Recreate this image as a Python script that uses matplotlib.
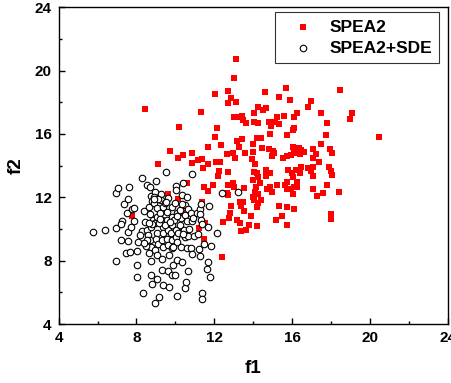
import numpy as np
import matplotlib
matplotlib.use("Agg")
import matplotlib.pyplot as plt
from matplotlib.ticker import MultipleLocator

# SPEA2 (red squares)
spea2_f1 = [13.09, 13.0, 12.03, 12.72, 12.85, 12.68, 13.1, 8.43, 11.33, 10.18,
            12.13, 12.05, 9.72, 10.39, 10.11, 9.09, 10.83, 10.84, 11.65, 11.39,
            11.14, 11.41, 11.68, 12.36, 12.08, 12.29, 12.25, 12.17, 12.68, 12.63,
            12.97, 13.06, 13.26, 13.14, 13.43, 13.57, 13.02, 13.23, 13.42, 13.49,
            13.62, 14.03, 14.27, 14.51, 14.68, 14.63, 14.03, 14.23, 14.17, 14.38,
            14.46, 13.97, 14.0, 13.95, 14.09, 14.03, 14.17, 14.27, 13.97, 14.65,
            14.86, 14.79, 14.9, 14.84, 15.12, 15.33, 15.23, 15.59, 15.3, 15.7,
            15.9, 15.75, 16.05, 16.09, 16.12, 16.27, 16.79, 16.98, 17.5, 17.8,
            17.73, 17.48, 17.95, 18.06, 18.45, 18.98, 19.09, 20.47, 14.82, 14.99,
            15.08, 14.97, 15.51, 15.72, 15.92, 16.05, 16.12, 16.39, 16.48, 16.6,
            16.36, 17.08, 17.22, 17.08, 17.39, 17.05, 16.99, 16.82, 17.05, 17.89,
            17.99, 18.05, 17.77, 17.6, 17.26, 17.08, 18.41, 17.99, 17.99, 15.8,
            15.99, 16.02, 16.19, 16.39, 16.48, 16.27, 16.08, 15.92, 16.05, 16.26,
            15.75, 15.72, 15.65, 15.24, 14.86, 14.72, 14.94, 14.65, 14.34, 14.13,
            14.08, 14.25, 13.97, 14.03, 14.42, 14.22, 14.17, 15.3, 15.75, 16.12,
            15.49, 15.15, 15.75, 14.17, 13.76, 13.62, 13.35, 13.32, 13.18, 13.91,
            13.55, 13.38, 13.31, 13.48, 13.51, 12.97, 13.02, 12.68, 12.63, 12.68,
            12.85, 12.8, 12.77, 12.44, 11.95, 11.68, 11.46, 11.36, 11.52, 11.23,
            11.49, 12.42, 10.58, 10.11, 10.32, 7.75, 9.64]
spea2_f2 = [20.76, 19.56, 18.53, 18.74, 18.25, 17.98, 18.04, 17.56, 17.41, 16.44,
            16.4, 15.83, 14.93, 14.67, 14.5, 14.08, 14.82, 14.15, 15.2, 14.44,
            14.36, 13.83, 14.11, 15.33, 14.25, 14.21, 13.66, 13.37, 13.6, 14.74,
            14.78, 14.48, 15.2, 15.58, 15.66, 14.78, 17.05, 17.07, 17.16, 16.88,
            16.67, 17.31, 17.68, 17.52, 17.62, 18.63, 16.78, 16.72, 15.77, 15.77,
            15.1, 15.37, 14.88, 14.4, 14.08, 13.62, 13.52, 13.31, 13.09, 13.73,
            13.52, 16.78, 16.53, 16.0, 16.74, 16.63, 17.05, 17.14, 18.34, 18.91,
            18.15, 15.94, 16.25, 16.4, 17.09, 17.31, 17.73, 18.08, 17.31, 16.72,
            15.92, 15.37, 15.05, 14.78, 18.78, 16.93, 17.35, 15.81, 15.05, 14.95,
            14.78, 14.61, 14.46, 14.61, 14.65, 15.2, 14.78, 14.74, 14.99, 14.88,
            15.1, 15.03, 14.74, 14.46, 14.25, 13.94, 13.68, 13.83, 13.37, 13.94,
            13.68, 13.41, 12.78, 12.29, 12.08, 12.51, 12.36, 10.93, 10.61, 13.73,
            13.56, 13.31, 13.73, 13.52, 13.94, 12.99, 12.67, 12.53, 12.21, 12.67,
            12.99, 12.53, 12.78, 12.78, 12.67, 12.51, 12.32, 13.35, 12.93, 12.63,
            12.36, 12.19, 12.04, 11.83, 11.83, 11.62, 11.37, 11.47, 11.37, 11.28,
            10.82, 10.57, 10.25, 10.19, 10.25, 9.94, 9.89, 10.36, 10.57, 10.82,
            11.16, 11.45, 11.73, 11.69, 12.57, 12.93, 12.67, 12.78, 12.29, 12.15,
            11.45, 10.99, 10.67, 10.44, 12.78, 12.42, 12.67, 11.73, 10.4, 10.04,
            9.35, 8.25, 12.88, 11.92, 10.99, 10.82, 12.21]

# SPEA2+SDE (open circles)
sde_f1 = [5.76, 6.38, 6.93, 6.96, 6.95, 7.07, 7.34, 7.61, 7.58, 7.5,
          7.27, 7.22, 7.18, 7.54, 7.44, 7.66, 7.54, 7.7, 7.79, 7.89,
          7.89, 8.06, 8.04, 8.01, 8.02, 8.29, 8.53, 8.31, 8.39, 8.43,
          8.26, 8.17, 8.52, 8.6, 8.69, 8.77, 8.82, 8.63, 8.72, 8.86,
          8.77, 8.69, 8.77, 8.65, 8.74, 8.77, 8.82, 8.97, 9.0, 8.97,
          8.9, 8.91, 9.03, 9.07, 8.95, 9.03, 9.0, 9.12, 8.95, 9.07,
          9.03, 9.16, 9.25, 9.26, 9.37, 9.23, 9.29, 9.34, 9.38, 9.29,
          9.38, 9.32, 9.32, 9.38, 9.51, 9.6, 9.49, 9.55, 9.55, 9.63,
          9.55, 9.6, 9.65, 9.6, 9.67, 9.8, 9.85, 9.8, 9.77, 9.85,
          9.8, 9.89, 9.85, 10.01, 10.03, 9.98, 10.06, 10.03, 10.01, 10.06,
          10.06, 9.98, 10.06, 10.32, 10.23, 10.27, 10.23, 10.32, 10.27, 10.32,
          10.39, 10.47, 10.49, 10.45, 10.49, 10.47, 10.55, 10.62, 10.63, 10.58,
          10.66, 10.62, 10.66, 10.83, 10.78, 10.83, 10.8, 10.87, 10.92, 10.95,
          11.09, 11.17, 11.21, 11.26, 11.26, 11.31, 11.26, 11.34, 11.38, 11.46,
          11.36, 11.36, 11.68, 11.63, 11.77, 11.72, 11.68, 11.82, 12.15, 12.42,
          13.23, 10.34, 9.12, 9.18, 9.45, 9.92, 10.15, 9.89, 8.82, 8.65,
          8.52, 8.47, 9.7, 10.4, 9.2, 8.9, 10.1, 9.5, 8.4, 10.7]
sde_f2 = [9.79, 9.92, 10.04, 7.98, 12.29, 12.61, 11.58, 12.63, 11.87, 10.99,
          10.53, 10.32, 9.31, 9.26, 8.46, 8.57, 9.79, 10.15, 11.24, 11.31,
          10.53, 9.2, 8.63, 7.73, 6.95, 13.24, 12.76, 5.94, 11.16, 10.46,
          9.89, 9.62, 9.94, 9.62, 12.67, 12.08, 11.77, 11.41, 10.93, 10.57,
          10.11, 9.31, 8.88, 8.46, 7.98, 7.09, 6.55, 5.35, 13.03, 12.36,
          12.04, 11.62, 11.31, 10.78, 10.4, 9.73, 9.35, 9.03, 8.67, 8.36,
          6.82, 5.73, 12.19, 11.83, 11.41, 10.99, 10.57, 10.15, 9.73, 9.31,
          8.88, 8.08, 7.41, 6.46, 13.58, 11.94, 11.62, 11.09, 10.57, 9.94,
          9.35, 8.99, 8.36, 7.37, 6.36, 11.41, 10.78, 10.25, 9.73, 9.31,
          8.78, 7.73, 7.09, 12.74, 12.46, 11.62, 10.99, 9.94, 9.52, 9.16,
          8.04, 7.09, 5.78, 12.15, 11.2, 10.67, 10.25, 9.83, 8.88, 7.92,
          12.93, 11.49, 10.86, 9.94, 9.47, 6.25, 6.65, 12.04, 11.24, 10.53,
          9.58, 8.78, 7.37, 13.45, 11.03, 10.53, 8.82, 8.4, 10.72, 9.58,
          11.03, 9.69, 8.76, 8.29, 11.24, 11.56, 10.93, 10.55, 10.34, 9.06,
          5.99, 5.6, 7.94, 7.45, 6.95, 11.45, 10.11, 8.95, 9.77, 12.29,
          12.36, 11.6, 11.9, 10.4, 10.25, 10.57, 9.73, 8.88, 10.32, 10.36,
          9.31, 8.95, 10.45, 9.7, 10.6, 11.9, 10.8, 11.7, 9.1, 10.0]

plt.rcParams['font.family'] = ['Liberation Sans', 'DejaVu Sans']
plt.rcParams['font.weight'] = 'bold'

fig = plt.figure(figsize=(4.51, 3.83), dpi=100)
ax = fig.add_axes([0.130, 0.154, 0.863, 0.827])

ax.scatter(spea2_f1, spea2_f2, marker='s', s=22, color='#ff0000',
           linewidths=0, label='SPEA2', zorder=2)
ax.scatter(sde_f1, sde_f2, marker='o', s=22, facecolors='white',
           edgecolors='black', linewidths=0.8, label='SPEA2+SDE', zorder=3)

ax.set_xlim(4, 24)
ax.set_ylim(4, 24)
ax.xaxis.set_major_locator(MultipleLocator(4))
ax.yaxis.set_major_locator(MultipleLocator(4))
ax.xaxis.set_minor_locator(MultipleLocator(2))
ax.yaxis.set_minor_locator(MultipleLocator(2))
ax.tick_params(which='major', direction='in', length=4, width=1, labelsize=11, pad=5)
ax.tick_params(which='minor', direction='in', length=2.5, width=1)
for lab in ax.get_xticklabels() + ax.get_yticklabels():
    lab.set_fontweight('bold')
for sp in ax.spines.values():
    sp.set_linewidth(1.0)

ax.set_xlabel('f1', fontsize=13.5, fontweight='bold', labelpad=11)
ax.set_ylabel('f2', fontsize=13.5, fontweight='bold', labelpad=7)

leg = ax.legend(loc='upper right', fontsize=12.5, frameon=True, fancybox=False,
                edgecolor='black', borderpad=0.4, handlelength=2.4,
                handletextpad=0.3, labelspacing=0.35, borderaxespad=0.3,
                bbox_to_anchor=(0.99, 1.0))
leg.get_frame().set_linewidth(0.8)
for t in leg.get_texts():
    t.set_fontweight('bold')

fig.savefig('out.png', dpi=100)
